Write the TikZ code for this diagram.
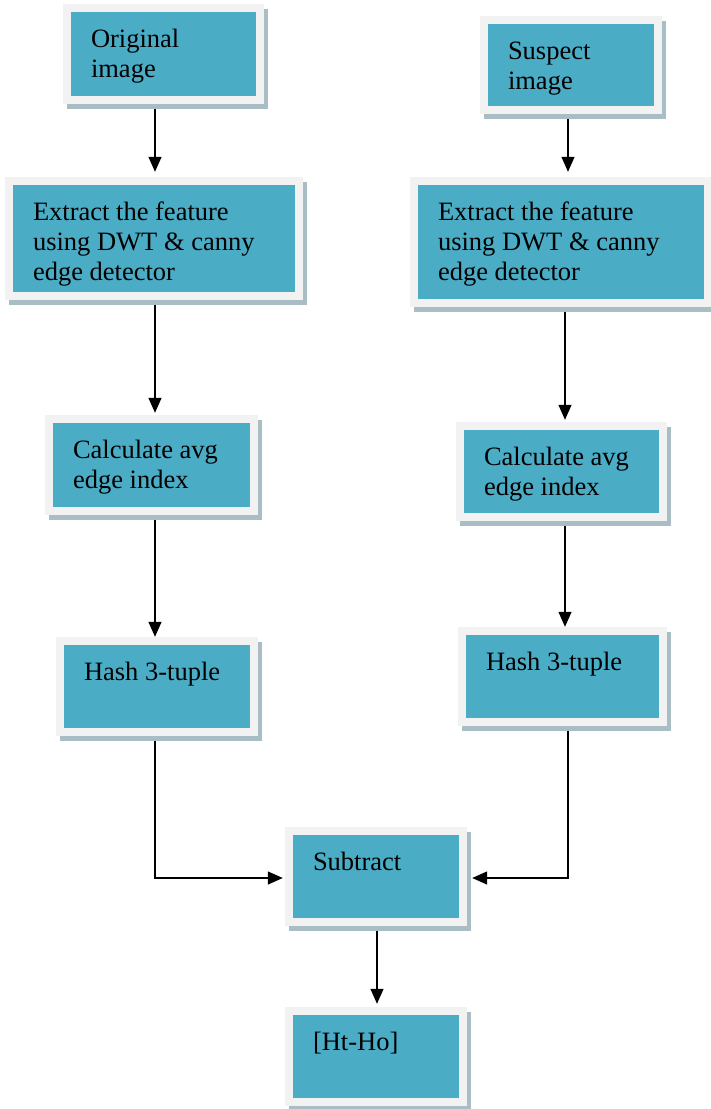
\documentclass[tikz,border=0pt]{standalone}
\usepackage{fontspec}
\setmainfont{Liberation Serif}
\usetikzlibrary{shadows,arrows.meta}
\definecolor{boxteal}{HTML}{4BACC6}
\definecolor{boxgray}{HTML}{F2F2F2}
\definecolor{shadowc}{rgb}{0.66,0.74,0.77}
\tikzset{
  outerbox/.style={rectangle, inner sep=0pt, fill=boxgray,
    drop shadow={shadow xshift=4pt, shadow yshift=-5pt, fill=shadowc, opacity=1},
    path picture={\fill[boxteal] ([shift={(8pt,8pt)}]path picture bounding box.south west) rectangle ([shift={(-8pt,-8pt)}]path picture bounding box.north east);}},
  boxtext/.style={inner sep=0pt, align=left, anchor=north west, font=\fontsize{26.5}{30}\selectfont},
  arr/.style={-{Triangle[length=15pt,width=13pt]}, line width=1.3pt, black},
}
\newcommand{\flowbox}[6]{%
  \node[outerbox, minimum width={#4-#2}, minimum height={#5-#3}] (#1) at ({(#2+#4)/2},{(#3+#5)/2}) {};
  \node[boxtext] (#1-t) at ([shift={(28pt,-24pt)}]#1.north west) {\rule{0pt}{19pt}#6};
}
\begin{document}
\begin{tikzpicture}[x=1pt,y=-1pt]
\useasboundingbox (0,0) rectangle (711,1109);
\flowbox{orig}{63}{4}{264}{104}{Original\\image}
\flowbox{susp}{480}{16}{662}{114}{Suspect\\image}
\flowbox{extL}{5}{177}{303}{300}{Extract the feature\\using DWT \& canny\\edge detector}
\flowbox{extR}{410}{177}{712}{307}{Extract the feature\\using DWT \& canny\\edge detector}
\flowbox{calcL}{45}{415}{258}{515}{Calculate avg\\edge index}
\flowbox{calcR}{456}{422}{667}{521}{Calculate avg\\edge index}
\flowbox{hashL}{56}{637}{258}{736}{Hash 3-tuple}
\flowbox{hashR}{458}{627}{667}{726}{Hash 3-tuple}
\flowbox{sub}{285}{827}{467}{926}{Subtract}
\flowbox{ht}{285}{1007}{467}{1106}{[Ht-Ho]}
\coordinate (cL) at (155,0);
\coordinate (cR) at (568,0);
\coordinate (cRm) at (565,0);
\coordinate (cS) at (377,0);
\draw[arr] ([yshift=-5pt]orig.south -| cL) -- ([yshift=5pt]extL.north -| cL);
\draw[arr] ([yshift=-5pt]susp.south -| cR) -- ([yshift=5pt]extR.north -| cR);
\draw[arr] ([yshift=-5pt]extL.south -| cL) -- ([yshift=2pt]calcL.north -| cL);
\draw[arr] ([yshift=-5pt]extR.south -| cRm) -- ([yshift=2pt]calcR.north -| cRm);
\draw[arr] ([yshift=-5pt]calcL.south -| cL) -- ([yshift=0pt]hashL.north -| cL);
\draw[arr] ([yshift=-5pt]calcR.south -| cRm) -- ([yshift=0pt]hashR.north -| cRm);
\draw[arr] ([yshift=-5pt]hashL.south -| cL) |- ([xshift=-2pt,yshift=-1.5pt]sub.west);
\draw[arr] ([yshift=-5pt]hashR.south -| cR) |- ([xshift=5pt,yshift=-1.5pt]sub.east);
\draw[arr] ([yshift=-5pt]sub.south -| cS) -- ([yshift=3pt]ht.north -| cS);
\end{tikzpicture}
\end{document}
